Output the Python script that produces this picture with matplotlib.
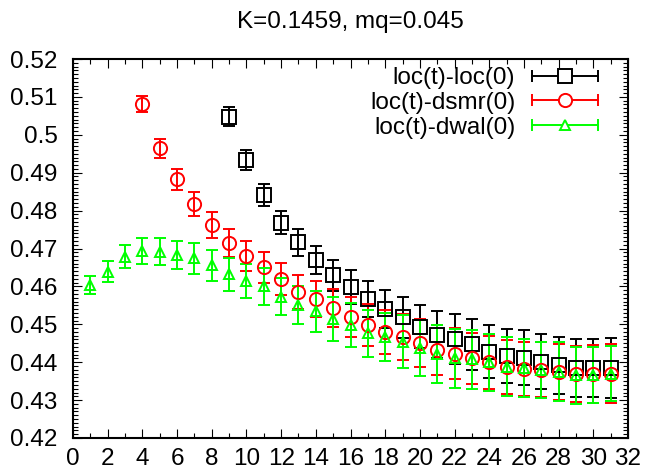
import matplotlib
matplotlib.use("Agg")
import matplotlib.pyplot as plt
from matplotlib.ticker import MultipleLocator
from matplotlib.legend_handler import HandlerBase
from matplotlib.container import ErrorbarContainer
from matplotlib.lines import Line2D

plt.rcParams['font.family'] = ['Liberation Sans', 'DejaVu Sans']

title = "K=0.1459, mq=0.045"

t_loc = list(range(9, 32))
loc_loc = [0.5048, 0.4934, 0.4841, 0.4768, 0.4716, 0.4670, 0.4629, 0.4598,
           0.4567, 0.4540, 0.4518, 0.4494, 0.4473, 0.4461, 0.4447, 0.4428,
           0.4416, 0.4412, 0.4401, 0.4392, 0.4384, 0.4384, 0.4384]
loc_loc_err = [0.0025, 0.0027, 0.0030, 0.0030, 0.0036, 0.0037, 0.0040, 0.0045,
               0.0047, 0.0050, 0.0055, 0.0057, 0.0062, 0.0065, 0.0067, 0.0069,
               0.0071, 0.0072, 0.0073, 0.0075, 0.0076, 0.0077, 0.0079]

t_dsmr = list(range(4, 32))
loc_dsmr = [0.5081, 0.4964, 0.4883, 0.4817, 0.4762, 0.4715, 0.4681, 0.4650,
            0.4620, 0.4586, 0.4566, 0.4542, 0.4520, 0.4498, 0.4480, 0.4467,
            0.4450, 0.4432, 0.4422, 0.4410, 0.4400, 0.4388, 0.4382, 0.4380,
            0.4373, 0.4369, 0.4369, 0.4370]
loc_dsmr_err = [0.0022, 0.0025, 0.0028, 0.0031, 0.0034, 0.0037, 0.0040, 0.0042,
                0.0043, 0.0045, 0.0047, 0.0050, 0.0053, 0.0056, 0.0058, 0.0060,
                0.0063, 0.0065, 0.0067, 0.0068, 0.0070, 0.0071, 0.0072, 0.0073,
                0.0074, 0.0075, 0.0076, 0.0077]

t_dwal = list(range(1, 32))
loc_dwal = [0.4604, 0.4639, 0.4678, 0.4694, 0.4692, 0.4683, 0.4674, 0.4656,
            0.4632, 0.4614, 0.4600, 0.4573, 0.4551, 0.4535, 0.4514, 0.4498,
            0.4476, 0.4467, 0.4454, 0.4437, 0.4422, 0.4410, 0.4408, 0.4400,
            0.4388, 0.4384, 0.4380, 0.4375, 0.4366, 0.4366, 0.4370]
loc_dwal_err = [0.0024, 0.0027, 0.0030, 0.0034, 0.0035, 0.0037, 0.0040, 0.0041,
                0.0044, 0.0044, 0.0048, 0.0048, 0.0051, 0.0054, 0.0058, 0.0059,
                0.0063, 0.0064, 0.0070, 0.0074, 0.0076, 0.0077, 0.0078, 0.0075,
                0.0078, 0.0077, 0.0074, 0.0077, 0.0075, 0.0074, 0.0073]


# gnuplot style key: horizontal bar with end caps and the point in the middle
class GnuplotKey(HandlerBase):
    def create_artists(self, legend, orig_handle, xdescent, ydescent,
                       width, height, fontsize, trans):
        data_line = orig_handle[0]
        c = data_line.get_color()
        y = height / 2 - ydescent
        x0, x1 = -xdescent, -xdescent + width
        bar = Line2D([x0, x1], [y, y], color=c, lw=1.4, transform=trans)
        caps = Line2D([x0, x1], [y, y], ls='none', marker='|', ms=8,
                      mew=1.4, color=c, transform=trans)
        pt = Line2D([(x0 + x1) / 2], [y], ls='none',
                    marker=data_line.get_marker(),
                    ms=data_line.get_markersize(), mfc='white', mec=c,
                    mew=1.4, transform=trans)
        return [bar, caps, pt]


fig = plt.figure(figsize=(6.46, 4.75), dpi=100)
ax = fig.add_axes([73 / 646, 1 - 438 / 475, 555 / 646, 379 / 475])

series = [
    (t_loc, loc_loc, loc_loc_err, 'black', 's', 10, "loc(t)-loc(0)"),
    (t_dsmr, loc_dsmr, loc_dsmr_err, '#ff0000', 'o', 9.5, "loc(t)-dsmr(0)"),
    (t_dwal, loc_dwal, loc_dwal_err, '#00ff00', '^', 7.5, "loc(t)-dwal(0)"),
]
handles = []
for t, v, e, c, m, ms, lab in series:
    h = ax.errorbar(t, v, yerr=e, fmt=m, ms=ms, mfc='none', mec=c, mew=1.4,
                    color=c, ecolor=c, elinewidth=1.4, capsize=4, capthick=1.4,
                    label=lab)
    handles.append(h)

ax.set_xlim(0, 32)
ax.set_ylim(0.42, 0.52)
ax.xaxis.set_major_locator(MultipleLocator(2))
ax.xaxis.set_minor_locator(MultipleLocator(1))
ax.yaxis.set_major_locator(MultipleLocator(0.01))
ax.yaxis.set_minor_locator(MultipleLocator(0.001))
ax.yaxis.set_major_formatter(plt.FuncFormatter(lambda v, p: f"{v:.2f}".rstrip('0') if abs(v - 0.5) < 1e-9 else f"{v:.2f}"))

ax.tick_params(which='both', direction='in', top=True, right=True,
               labelsize=17.5, width=0.8)
ax.tick_params(which='major', length=6.5)
ax.tick_params(which='minor', length=3.5)
ax.tick_params(axis='y', pad=11)
ax.tick_params(axis='x', pad=7)
for s in ax.spines.values():
    s.set_linewidth(1.5)

ax.legend(handles=handles, handler_map={ErrorbarContainer: GnuplotKey()},
          loc='upper right', bbox_to_anchor=((598 - 73) / 555, 1 - (67 - 59) / 379),
          frameon=False, markerfirst=False, fontsize=17.5, handlelength=2.7,
          handletextpad=0.7, labelspacing=0.12, borderpad=0, borderaxespad=0)

fig.text(350.5 / 646, 1 - 28 / 475, title, ha='center', va='baseline',
         fontsize=17.5)

fig.savefig("out.png", dpi=100)
